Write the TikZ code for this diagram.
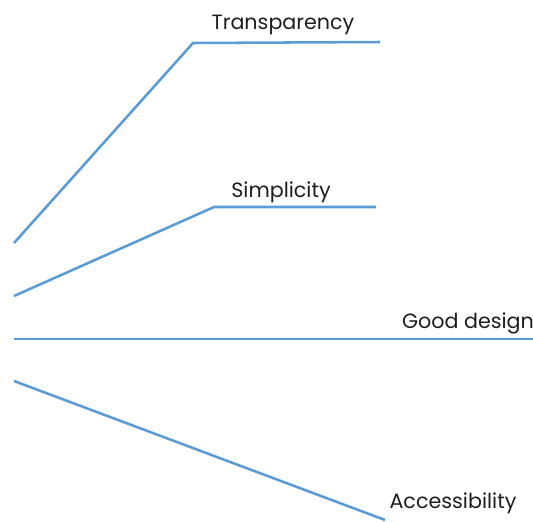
\documentclass[tikz,border=0pt]{standalone}
\usepackage{fontspec}
\setmainfont{Poppins}
\definecolor{lineblue}{RGB}{91,155,213}
\definecolor{textgray}{RGB}{30,30,30}
\begin{document}
\begin{tikzpicture}[x=0.75pt,y=-0.75pt]
		\tikzset{branch/.style = {draw=lineblue, line width=1.9pt}}
		\tikzset{word/.style = {text=textgray, font=\fontsize{15.5}{18}\selectfont, anchor=base, inner sep=0pt}}

		\useasboundingbox (0,0) rectangle (533,522);

		% left ends of the branches
		\coordinate (t0) at (14,243);
		\coordinate (s0) at (14,296);
		\coordinate (g0) at (14,339);
		\coordinate (a0) at (14,381);

		% bends and right ends
		\coordinate (t1) at (193,43);
		\coordinate (t2) at (380,42);
		\coordinate (s1) at (214,207);
		\coordinate (s2) at (376,207);
		\coordinate (g1) at (533,339);
		\coordinate (a1) at (385,520);

		\node[word] (trans) at (283,29) {Transparency};
		\node[word] (simp) at (281,197) {Simplicity};
		\node[word] (good) at (468,328) {Good design};
		\node[word] (acc) at (453,508) {Accessibility};

		\draw[branch] (t0) -- (t1) -- (t2);
		\draw[branch] (s0) -- (s1) -- (s2);
		\draw[branch] (g0) -- (g1);
		\draw[branch] (a0) -- (a1);

	\end{tikzpicture}
\end{document}
